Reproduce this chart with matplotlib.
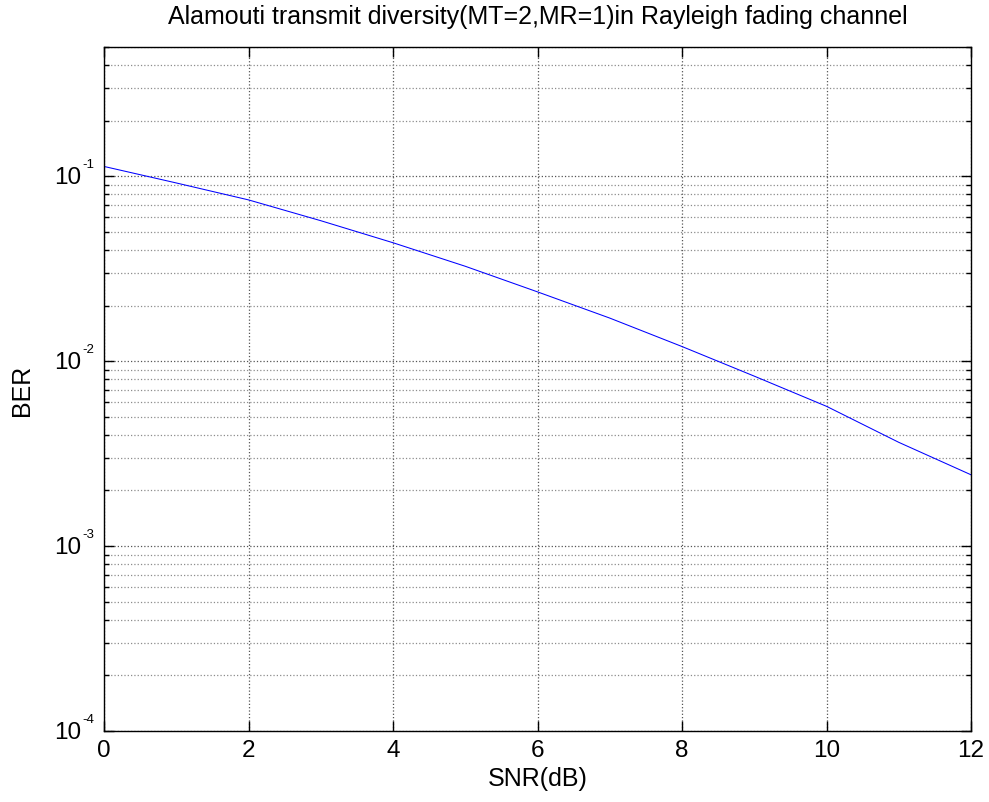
import matplotlib
matplotlib.use("Agg")
import matplotlib.pyplot as plt
from matplotlib.ticker import LogLocator, FixedLocator, NullLocator
from matplotlib.transforms import blended_transform_factory, ScaledTranslation

plt.rcParams['font.family'] = ['Liberation Sans', 'DejaVu Sans']

# Data
snr_db = [0, 1, 2, 3, 4, 5, 6, 7, 8, 9, 10, 11, 12]
ber = [0.113, 0.092, 0.0745, 0.0575, 0.0437, 0.0326, 0.0237, 0.0171,
       0.0120, 0.0083, 0.0057, 0.00364, 0.00243]
x_ticks = [0, 2, 4, 6, 8, 10, 12]
y_decades = [1e-4, 1e-3, 1e-2, 1e-1]
y_exponents = ["-4", "-3", "-2", "-1"]

title = "Alamouti transmit diversity(MT=2,MR=1)in Rayleigh fading channel"
xlabel = "SNR(dB)"
ylabel = "BER"

fig = plt.figure(figsize=(9.89, 8.03), dpi=100)
ax = fig.add_axes([104/989, 1 - 732/803, (971-104)/989, (732-48)/803])

ax.semilogy(snr_db, ber, color=(0, 0, 1), linewidth=0.75)

ax.set_xlim(0, 12)
ax.set_ylim(1e-4, 0.5)
ax.xaxis.set_major_locator(FixedLocator(x_ticks))
ax.xaxis.set_minor_locator(NullLocator())
ax.yaxis.set_major_locator(FixedLocator(y_decades))
ax.yaxis.set_minor_locator(LogLocator(base=10, subs=range(2, 10), numticks=20))

ax.grid(True, which='major', axis='both', linestyle=':', color='#555555', linewidth=0.9)
ax.grid(True, which='minor', axis='y', linestyle=':', color='#8c8c8c', linewidth=0.9)
ax.set_axisbelow(True)

ax.tick_params(which='both', direction='in', top=True, right=True, labelsize=17.5,
               width=1.0, color='black')
ax.tick_params(which='major', length=7.5, pad=6)
ax.tick_params(which='minor', length=3.5)
ax.tick_params(axis='y', which='both', labelleft=False)
for s in ax.spines.values():
    s.set_linewidth(1.0)
    s.set_color('black')

# y tick labels in MATLAB style: "10" with a small raised exponent
px = 72.0 / fig.dpi
base = blended_transform_factory(ax.transAxes, ax.transData)
for val, ex in zip(y_decades, y_exponents):
    t1 = base + ScaledTranslation(-23 * px / 72, -1 * px / 72, fig.dpi_scale_trans)
    ax.text(0, val, "10", transform=t1, ha='right', va='center', fontsize=17.5)
    t2 = base + ScaledTranslation(-22 * px / 72, 9 * px / 72, fig.dpi_scale_trans)
    ax.text(0, val, ex, transform=t2, ha='left', va='baseline', fontsize=9.5)

ax.set_title(title, fontsize=18, pad=17)
ax.set_xlabel(xlabel, fontsize=18)
ax.xaxis.label.set_va('center')
ax.xaxis.set_label_coords(0.5, -(779 - 732) / 684)
ax.set_ylabel(ylabel, fontsize=18)
ax.yaxis.label.set_va('center')
ax.yaxis.set_label_coords(-(104 - 22) / 867, 0.5)

fig.savefig("out.png", dpi=100)
